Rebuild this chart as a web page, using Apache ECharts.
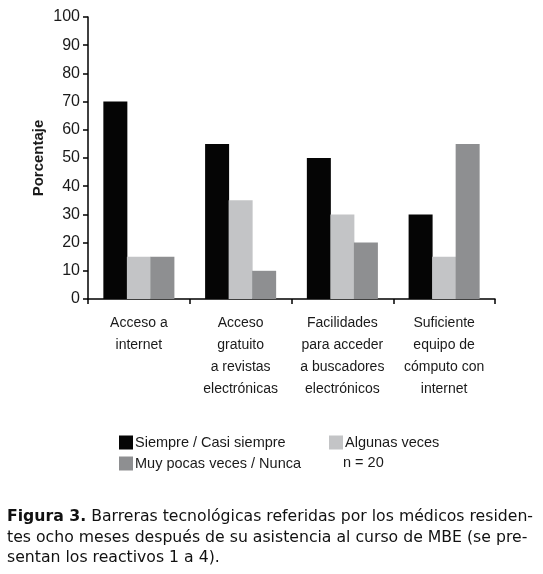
<!DOCTYPE html>
<html>
<head>
<meta charset="utf-8">
<script src="https://cdn.jsdelivr.net/npm/echarts@6/dist/echarts.min.js"></script>
<style>
  html, body { margin: 0; padding: 0; background: #fff; }
  #main { width: 543px; height: 574px; }
</style>
</head>
<body>
<div id="main"></div>
<script>
// categorías (ítems 1 a 4)
const categories = [
  'Acceso a\ninternet',
  'Acceso\ngratuito\na revistas\nelectrónicas',
  'Facilidades\npara acceder\na buscadores\nelectrónicos',
  'Suficiente\nequipo de\ncómputo con\ninternet'
];
const siempre = [70, 55, 50, 30];
const algunas = [15, 35, 30, 15];
const muyPocas = [15, 10, 20, 55];
const yTicks = [0, 10, 20, 30, 40, 50, 60, 70, 80, 90, 100];

const sans = "'Liberation Sans', Arial, sans-serif";
const ink = '#1a1a1a';

const chart = echarts.init(document.getElementById('main'));

chart.setOption({
  animation: false,
  grid: { left: 88, right: 48, top: 17, bottom: 275 },
  legend: [
    {
      data: ['Siempre / Casi siempre', 'Muy pocas veces / Nunca'],
      orient: 'vertical',
      left: 114, top: 430,
      itemWidth: 14, itemHeight: 14, itemGap: 6,
      icon: 'rect',
      textStyle: { fontFamily: sans, fontSize: 14.5, color: ink, padding: [0, 0, 0, -3] }
    },
    {
      data: ['Algunas veces'],
      orient: 'vertical',
      left: 324, top: 430,
      itemWidth: 14, itemHeight: 14,
      icon: 'rect',
      textStyle: { fontFamily: sans, fontSize: 14.5, color: ink, padding: [0, 0, 0, -3] }
    }
  ],
  xAxis: {
    type: 'category',
    data: categories,
    axisLine: { lineStyle: { color: '#000', width: 1.5 } },
    axisTick: { show: true, length: 5, lineStyle: { color: '#000', width: 1.5 } },
    axisLabel: {
      interval: 0, margin: 13,
      fontFamily: sans, fontSize: 14, lineHeight: 22, color: ink
    }
  },
  yAxis: {
    type: 'value',
    min: yTicks[0], max: yTicks[yTicks.length - 1], interval: 10,
    name: 'Porcentaje',
    nameLocation: 'middle', nameRotate: 90, nameGap: 42, nameMoveOverlap: false,
    nameTextStyle: { fontFamily: sans, fontSize: 15, fontWeight: 'bold', color: ink },
    axisLine: { show: true, lineStyle: { color: '#000', width: 1.5 } },
    axisTick: { show: true, length: 5, lineStyle: { color: '#000', width: 1.5 } },
    splitLine: { show: false },
    axisLabel: { margin: 8, fontFamily: sans, fontSize: 16, color: ink }
  },
  series: [
    { name: 'Siempre / Casi siempre', type: 'bar', data: siempre,
      barWidth: 24, barGap: '-2%', itemStyle: { color: '#050505' } },
    { name: 'Algunas veces', type: 'bar', data: algunas,
      barWidth: 24, barGap: '-2%', itemStyle: { color: '#c3c4c6' } },
    { name: 'Muy pocas veces / Nunca', type: 'bar', data: muyPocas,
      barWidth: 24, barGap: '-2%', itemStyle: { color: '#8e8f91' } }
  ],
  graphic: [
    {
      type: 'text', left: 343, top: 455,
      style: { text: 'n = 20', fontFamily: sans, fontSize: 14.5, fill: ink }
    },
    {
      type: 'text', left: 7, top: 507,
      style: {
        text: '{b|Figura 3.} Barreras tecnológicas referidas por los médicos residen-\n' +
              'tes ocho meses después de su asistencia al curso de MBE (se pre-\n' +
              'sentan los reactivos 1 a 4).',
        fontFamily: 'DejaVu Sans', fontSize: 15.7, lineHeight: 20.5, fill: '#111',
        rich: { b: { fontFamily: 'DejaVu Sans', fontSize: 15.7, lineHeight: 20.5, fontWeight: 'bold', fill: '#111' } }
      }
    }
  ]
});
</script>
</body>
</html>
